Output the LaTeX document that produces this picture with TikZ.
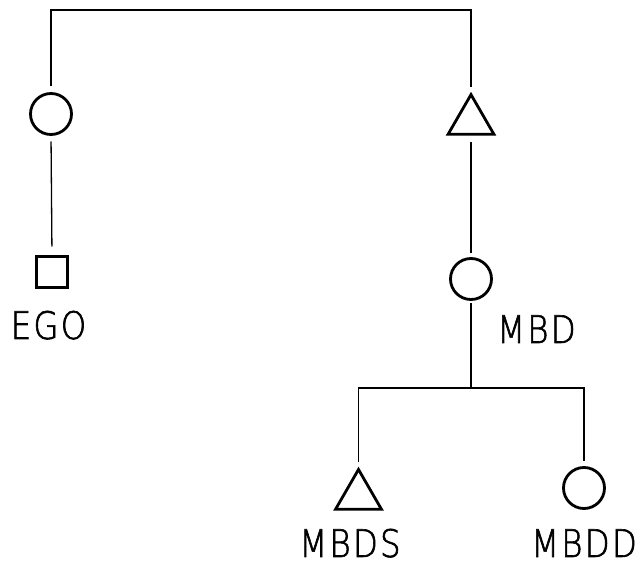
\documentclass[tikz,border=0pt]{standalone}
\usepackage{fontspec}
\usetikzlibrary{shapes.geometric}
\newfontfamily\labelfont[FakeStretch=0.85,LetterSpace=6,FakeBold=1.6]{DejaVu Sans ExtraLight}
\begin{document}
\begin{tikzpicture}[x=1pt,y=-1pt,
  kin/.style={draw,line width=2.8pt,inner sep=0pt,outer sep=0pt},
  female/.style={kin,circle,minimum size=41pt},
  male/.style={kin,regular polygon,regular polygon sides=3,minimum size=53pt},
  egobox/.style={kin,rectangle,minimum size=31pt},
  link/.style={line width=1.3pt,line join=miter},
  lab/.style={font=\labelfont\fontsize{38}{40}\selectfont,anchor=base,inner sep=0pt,text depth=0pt}]
  \useasboundingbox (0,0) rectangle (641,564);

  % generation I: siblings
  \node[female] (Z) at (51,114) {};
  \node[male]   (MB) at (471,121.1) {};
  % generation II
  \node[egobox] (E) at (52,272) {};
  \node[female] (MBD) at (471,279) {};
  % generation III
  \node[male]   (MBDS) at (358.5,496) {};
  \node[female] (MBDD) at (584,488) {};

  % sibling bar
  \coordinate (s1) at (51,10);
  \coordinate (s2) at (471,10);
  \draw[link,shorten <=7pt,shorten >=8pt] (Z.north) -- (s1) -- (s2) -- (MB.corner 1);
  % descent lines
  \draw[link,shorten <=7pt,shorten >=10pt] (Z.south) -- (E.north);
  \draw[link,shorten <=8pt,shorten >=5pt] (MB.side 2) -- (MBD.north);
  \coordinate (j) at (471,388);
  \draw[link,shorten <=4pt] (MBD.south) -- (j);
  \draw[link,shorten <=7pt,shorten >=6pt] (MBDS.corner 1) -- (MBDS |- j) -- (MBDD |- j) -- (MBDD.north);

  % labels
  \node[lab] (tE) at (48.5,339) {EGO};
  \node[lab,anchor=base west] (tMBD) at (497,343) {MBD};
  \node[lab] (tMBDS) at (350,557) {MBDS};
  \node[lab] (tMBDD) at (584,557) {MBDD};
\end{tikzpicture}
\end{document}
